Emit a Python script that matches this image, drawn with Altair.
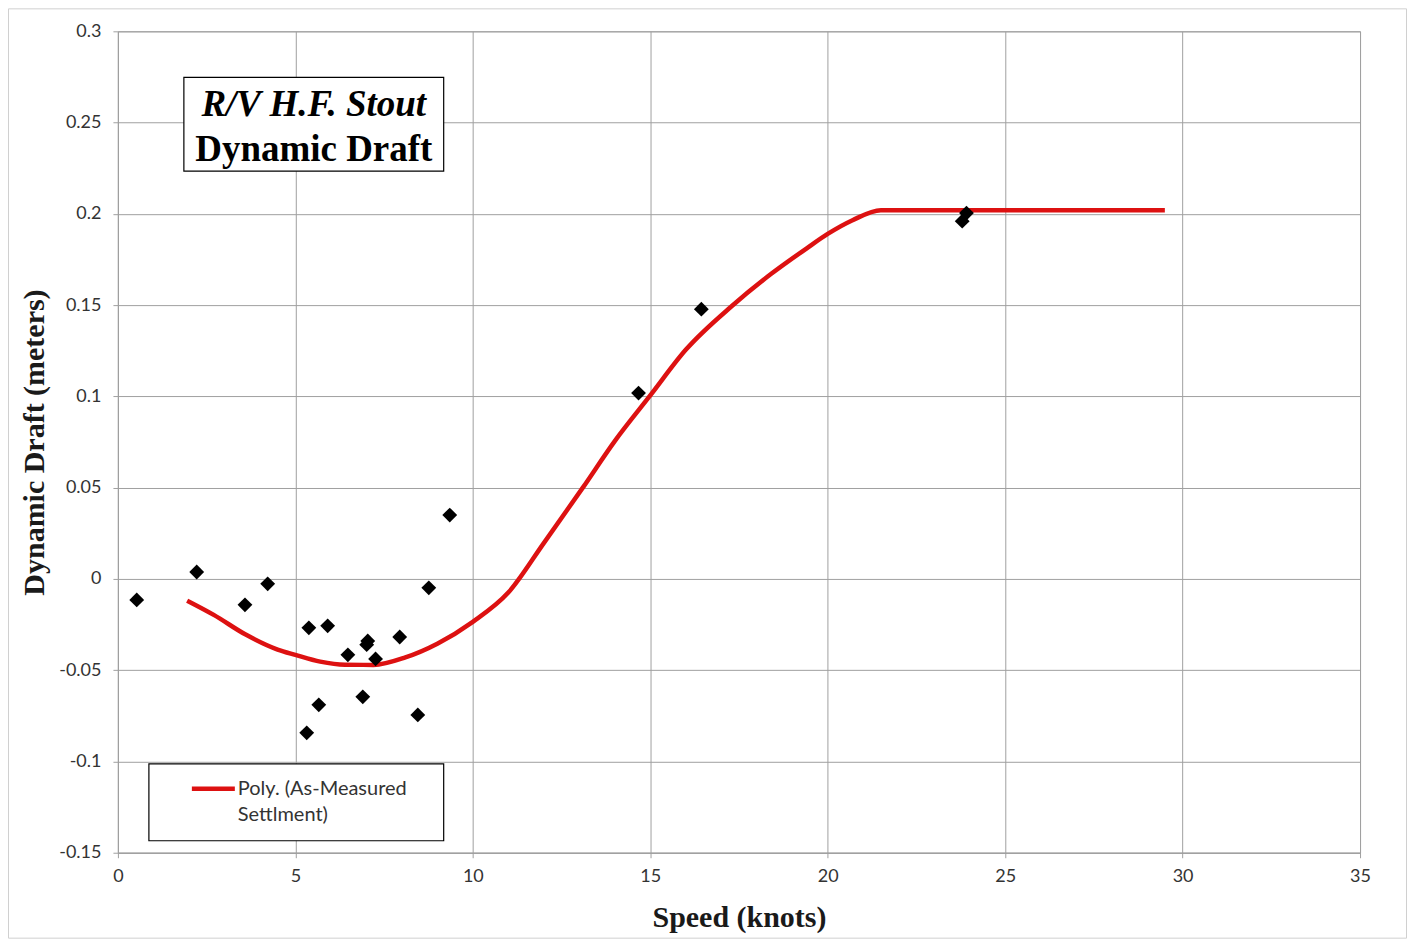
import altair as alt
import pandas as pd

# Measured points
speed = [0.53, 2.22, 3.58, 4.22, 5.38, 5.91, 6.48, 7.04, 7.01, 7.26, 7.94, 8.76,
         9.35, 5.32, 5.66, 6.90, 8.45, 14.67, 16.44, 23.79, 23.91]
draft = [-0.0115, 0.0038, -0.0142, -0.0027, -0.0268, -0.0257, -0.0416, -0.0340,
         -0.0360, -0.0438, -0.0318, -0.0049, 0.0350, -0.0843, -0.0690, -0.0646,
         -0.0745, 0.1018, 0.1478, 0.1960, 0.2004]

# Polynomial trend (as drawn)
trend_speed = [1.95, 2.7, 3.6, 4.5, 5.0, 5.7, 6.4, 7.2, 8.1, 9.0, 10.0, 11.0, 12.0,
               13.1, 14.0, 15.0, 16.0, 17.3, 18.4, 19.4, 20.0, 20.7, 21.5, 29.5]
trend_draft = [-0.0119, -0.0197, -0.0305, -0.0387, -0.0416, -0.0453, -0.0470,
               -0.0471, -0.0430, -0.0355, -0.0235, -0.0075, 0.0196, 0.0500,
               0.0755, 0.1005, 0.1255, 0.1495, 0.1670, 0.1810, 0.1890, 0.1965,
               0.2020, 0.2020]

x_ticks = [0, 5, 10, 15, 20, 25, 30, 35]
y_ticks = [0.3, 0.25, 0.2, 0.15, 0.1, 0.05, 0, -0.05, -0.1, -0.15]

title_lines = ["R/V H.F. Stout", "Dynamic Draft"]
legend_lines = ["Poly. (As-Measured", "Settlment)"]

W, H = 1243, 822

pts = pd.DataFrame({"speed": speed, "draft": draft})
trend = pd.DataFrame({"speed": trend_speed, "draft": trend_draft})
one = pd.DataFrame({"k": [0]})

xscale = alt.Scale(domain=[0, 35], nice=False, zero=False)
yscale = alt.Scale(domain=[-0.15, 0.3], nice=False, zero=False)

xaxis = alt.Axis(values=x_ticks, title="Speed (knots)", labelExpr="'' + datum.value",
                 labelFlush=False,
                 titleFont="Liberation Serif", titleFontSize=30, titleFontWeight="bold",
                 titleColor="#1a1a1a", titlePadding=17)
yaxis = alt.Axis(values=y_ticks, title="Dynamic Draft (meters)", labelExpr="'' + datum.value",
                 labelFlush=False,
                 titleFont="Liberation Serif", titleFontSize=30, titleFontWeight="bold",
                 titleColor="#1a1a1a", titleX=-83, titleY=H / 2, titleAlign="center",
                 titleBaseline="middle", titleAngle=270)

border = alt.Chart(one).mark_rect(filled=False, stroke="#d0d0d0", strokeWidth=1).encode(
    x=alt.value(-109.5), x2=alt.value(W + 46.5), y=alt.value(-22.5), y2=alt.value(H + 85.5))

line = alt.Chart(trend).mark_line(color="#dd1111", strokeWidth=4.5, interpolate="monotone").encode(
    x=alt.X("speed:Q", scale=xscale, axis=xaxis),
    y=alt.Y("draft:Q", scale=yscale, axis=yaxis),
)

points = alt.Chart(pts).mark_point(shape="diamond", filled=True, color="black", size=220, opacity=1).encode(
    x=alt.X("speed:Q", scale=xscale),
    y=alt.Y("draft:Q", scale=yscale),
)

tbox = alt.Chart(one).mark_rect(fill="white", stroke="black", strokeWidth=1.2).encode(
    x=alt.value(66), x2=alt.value(326), y=alt.value(46), y2=alt.value(140))
t1 = alt.Chart(one).mark_text(text=title_lines[0], font="Liberation Serif", fontSize=37,
                              fontWeight="bold", fontStyle="italic", color="black",
                              align="center", baseline="middle").encode(
    x=alt.value(196), y=alt.value(74))
t2 = alt.Chart(one).mark_text(text=title_lines[1], font="Liberation Serif", fontSize=37,
                              fontWeight="bold", color="black",
                              align="center", baseline="middle").encode(
    x=alt.value(196), y=alt.value(119))

lbox = alt.Chart(one).mark_rect(fill="white", stroke="black", strokeWidth=1.2).encode(
    x=alt.value(31), x2=alt.value(326), y=alt.value(733), y2=alt.value(810))
lline = alt.Chart(one).mark_rule(color="#dd1111", strokeWidth=4.5).encode(
    x=alt.value(74), x2=alt.value(117), y=alt.value(758))
l1 = alt.Chart(one).mark_text(text=legend_lines[0], font="Lato", fontSize=20, color="#333333",
                              align="left", baseline="middle").encode(
    x=alt.value(120), y=alt.value(758))
l2 = alt.Chart(one).mark_text(text=legend_lines[1], font="Lato", fontSize=20, color="#333333",
                              align="left", baseline="middle").encode(
    x=alt.value(120), y=alt.value(784))

chart = alt.layer(border, line, points, tbox, t1, t2, lbox, lline, l1, l2).properties(
    width=W, height=H,
    autosize=alt.AutoSizeParams(type="none"),
    padding={"left": 110, "top": 23, "right": 47, "bottom": 86},
    background="white",
).configure_view(stroke="#a0a0a0", strokeWidth=1).configure_axis(
    grid=True, gridColor="#a0a0a0", gridWidth=1,
    domainColor="#a0a0a0", tickColor="#a0a0a0", tickSize=5,
    labelFont="Lato", labelFontSize=18, labelColor="#333333", labelPadding=10,
).configure_axisY(labelPadding=12)

chart.save("out.html", embed_options={"renderer": "svg", "actions": False})
